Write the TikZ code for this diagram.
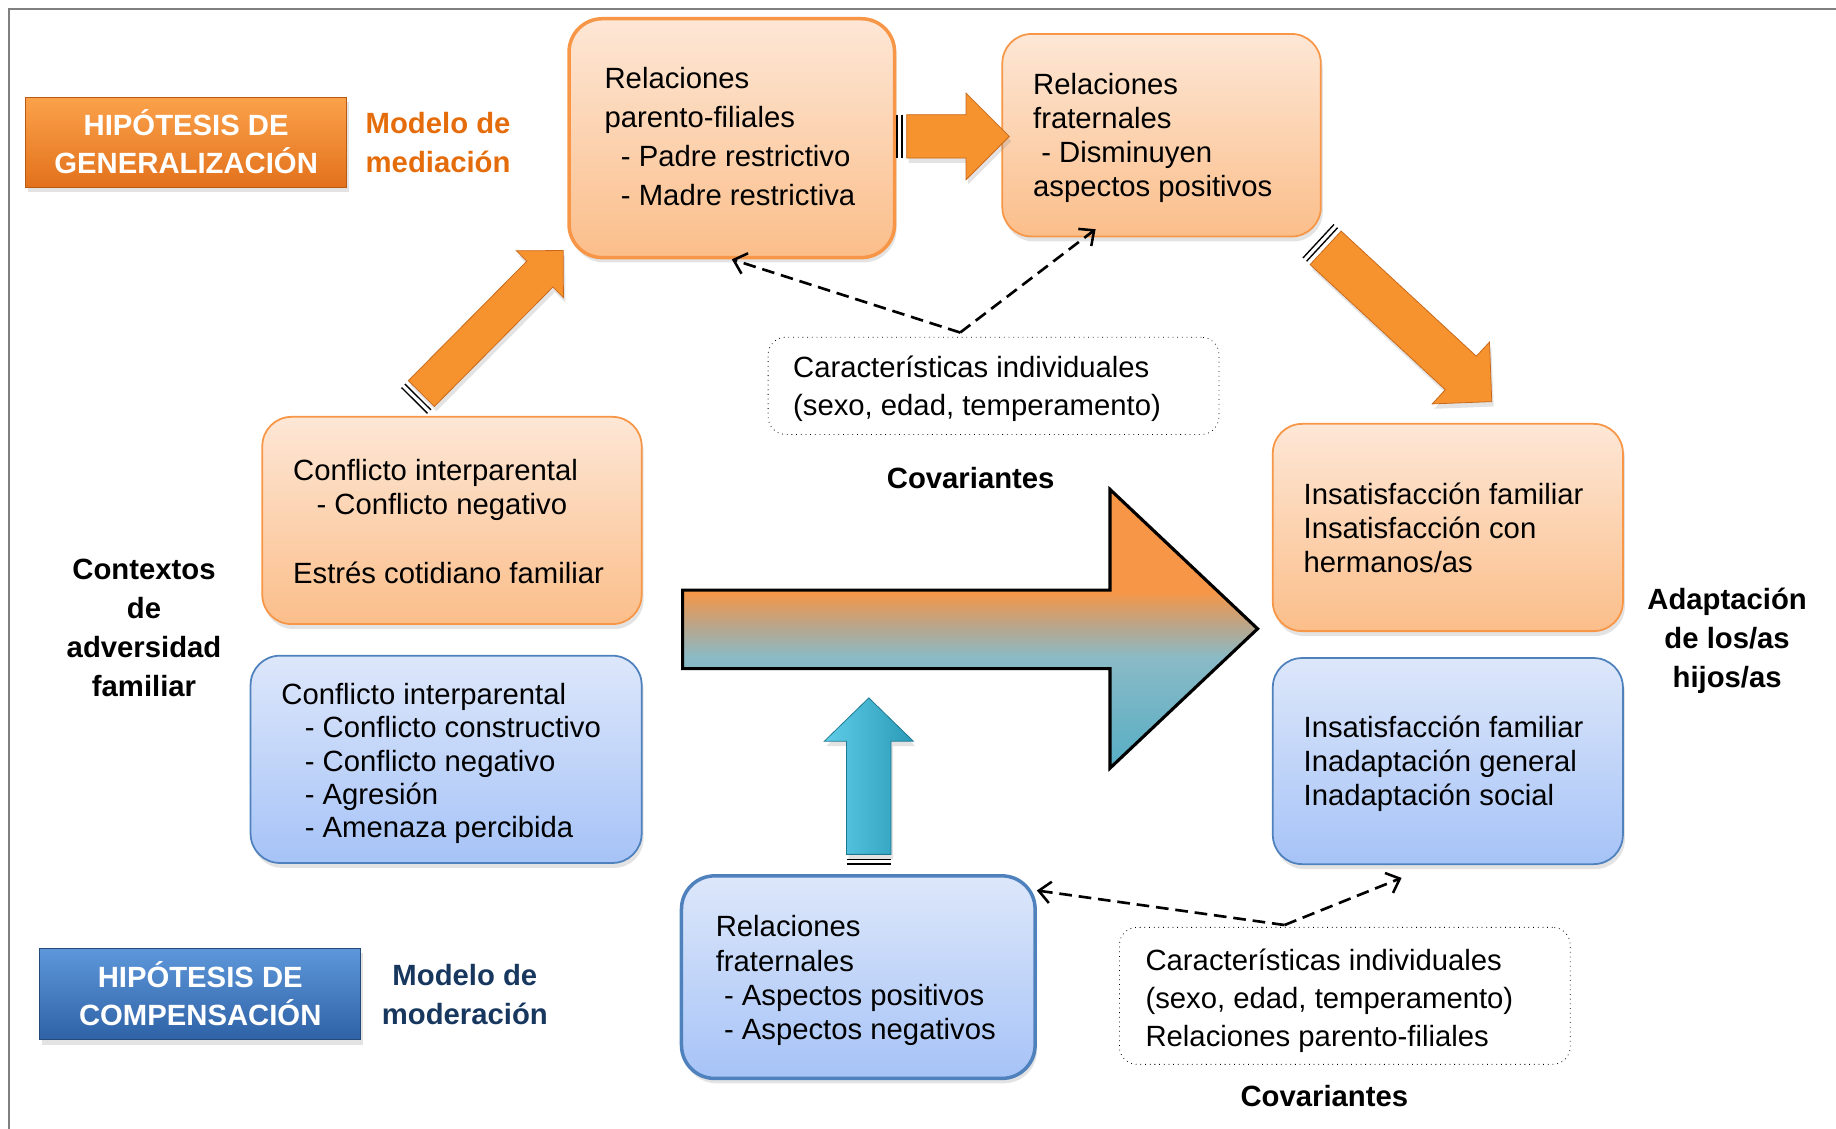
\documentclass[tikz,border=0pt]{standalone}
\usepackage{fontspec}
\setmainfont{Liberation Sans}
\usetikzlibrary{calc,shadows,arrows.meta,fit}
\definecolor{obord}{HTML}{F79646}
\definecolor{otop}{HTML}{FDE7D6}
\definecolor{obot}{HTML}{FBBE8A}
\definecolor{bbord}{HTML}{4F81BD}
\definecolor{btop}{HTML}{DDE7FA}
\definecolor{bbot}{HTML}{A6C3F7}
\definecolor{arrO}{HTML}{F7932F}
\definecolor{arrOd}{HTML}{C8681A}
\definecolor{arrBl}{HTML}{5FCDE8}
\definecolor{arrBr}{HTML}{2A9AB8}
\definecolor{arrBd}{HTML}{1E7891}
\definecolor{medO}{HTML}{E46C0A}
\definecolor{modB}{HTML}{17375E}
\definecolor{hypOt}{HTML}{FBA24B}
\definecolor{hypOb}{HTML}{E3711C}
\definecolor{hypOd}{HTML}{B85A12}
\definecolor{hypBt}{HTML}{5D97DA}
\definecolor{hypBb}{HTML}{2F62A6}
\definecolor{hypBd}{HTML}{24497A}
\definecolor{bTeal}{HTML}{56AEC5}
\definecolor{bLtTeal}{HTML}{8BBAC6}
\definecolor{bTan}{HTML}{B8A68C}
\definecolor{bOrange}{HTML}{F79646}
\definecolor{framegray}{HTML}{7F7F7F}
\pgfdeclareverticalshading{bigshade}{100bp}{color(0bp)=(bTeal); color(25bp)=(bTeal); color(45bp)=(bLtTeal); color(50.4bp)=(bTan); color(56.7bp)=(bOrange); color(100bp)=(bOrange)}
\newcommand{\blockarrow}[6]{%
  \coordinate (ba-s) at ($(#1)!5pt!(#2)$);
  \coordinate (ba-m) at ($(#1)!2.5pt!(#2)$);
  \coordinate (ba-h) at ($(#2)!#5!(#1)$);
  \path[#6] ($(ba-s)!#3!90:(#2)$) -- ($(ba-h)!#3!90:(#2)$) -- ($(ba-h)!#4!90:(#2)$) -- (#2) -- ($(ba-h)!#4!-90:(#2)$) -- ($(ba-h)!#3!-90:(#2)$) -- ($(ba-s)!#3!-90:(#2)$) -- cycle;
  \draw[stripe] ($(#1)!#3!90:(#2)$) -- ($(#1)!#3!-90:(#2)$);
  \draw[stripe] ($(ba-m)!#3!90:(#2)$) -- ($(ba-m)!#3!-90:(#2)$);
}
\begin{document}
\begin{tikzpicture}[x=0.6pt,y=-0.6pt,
  softshadow/.style={drop shadow={opacity=0.22, shadow xshift=1pt, shadow yshift=-2.5pt}},
  obox/.style={inner sep=0pt, draw=obord, line width=0.9pt, top color=otop, bottom color=obot, rounded corners=15pt, softshadow},
  bbox/.style={inner sep=0pt, draw=bbord, line width=0.9pt, top color=btop, bottom color=bbot, rounded corners=15pt, softshadow},
  covbox/.style={inner sep=0pt, draw=black, line width=0.4pt, dotted, rounded corners=9pt},
  txt/.style={anchor=west, align=left, inner sep=0pt, font=\fontsize{15}{#1}\selectfont},
  lbl/.style={align=center, inner sep=0pt, font=\fontsize{15}{#1}\selectfont\bfseries},
  hyp/.style={inner sep=0pt, line width=0.5pt, softshadow},
  hyptxt/.style={inner sep=0pt, align=center, text=white, font=\fontsize{15}{#1}\selectfont\bfseries},
  dashcon/.style={draw=black, line width=1.35pt, dash pattern=on 6.5pt off 3.5pt, -{Straight Barb[length=6pt,width=11pt,line width=1.3pt]}},
  stripe/.style={line width=0.7pt},
  oarrow/.style={fill=arrO, draw=arrOd, line width=0.4pt, line join=miter, softshadow},
  barrow/.style={left color=arrBl, right color=arrBr, draw=arrBd, line width=0.4pt, line join=miter, softshadow}
]
\useasboundingbox (0,0) rectangle (1568,964);
% frame
\draw[framegray, line width=0.9pt] (8,964) -- (8,8) -- (1568,8);

% hypothesis labels
\node[hyp, fit={(22,83) (296,160)}, top color=hypOt, bottom color=hypOb, draw=hypOd] (hypg) {};
\node[hyptxt=19.2pt] (hypgt) at (159,121) {HIPÓTESIS DE\\GENERALIZACIÓN};
\node[txt=19.8pt, font=\fontsize{15}{19.8}\selectfont\bfseries, text=medO] (medlbl) at (312,121.5) {Modelo de\\mediación};
\node[hyp, fit={(34,810) (308,888)}, top color=hypBt, bottom color=hypBb, draw=hypBd] (hypc) {};
\node[hyptxt=19.8pt] (hypct) at (171,848.5) {HIPÓTESIS DE\\COMPENSACIÓN};
\node[lbl=19.8pt, text=modB] (modlbl) at (397,849.5) {Modelo de\\moderación};

% boxes
\node[obox, line width=1.8pt, rounded corners=17pt, fit={(486,16) (764,220)}] (tl) {};
\node[obox, fit={(856,29) (1128,202)}] (tr) {};
\node[covbox, fit={(656,288) (1041,371)}] (cov1) {};
\node[obox, fit={(224,356) (548,533)}] (lo) {};
\node[bbox, fit={(214,560) (548,737)}] (lb) {};
\node[obox, fit={(1087,362) (1386,539)}] (ro) {};
\node[bbox, fit={(1087,562) (1386,738)}] (rb) {};
\node[bbox, line width=1.8pt, rounded corners=17pt, fit={(582,748) (884,921)}] (bot) {};
\node[covbox, fit={(956,792) (1341,909)}] (cov2) {};

% box texts
\node[txt=20pt] (tlt) at (516,117) {Relaciones\\parento-filiales\\\hspace*{8.4pt}- Padre restrictivo\\\hspace*{8.4pt}- Madre restrictiva};
\node[txt=17.4pt] (trt) at (882,117.5) {Relaciones\\fraternales\\\hspace*{4.2pt}- Disminuyen\\aspectos positivos};
\node[txt=19.8pt] (cov1t) at (677,332) {Características individuales\\(sexo, edad, temperamento)};
\node[txt=17.6pt] (lot) at (250,445) {Conflicto interparental\\\hspace*{12pt}- Conflicto negativo\\[17.6pt]Estrés cotidiano familiar};
\node[txt=17.1pt] (lbt) at (240,652) {Conflicto interparental\\\hspace*{12pt}- Conflicto constructivo\\\hspace*{12pt}- Conflicto negativo\\\hspace*{12pt}- Agresión\\\hspace*{12pt}- Amenaza percibida};
\node[txt=17.4pt] (rot) at (1113,451) {Insatisfacción familiar\\Insatisfacción con\\hermanos/as};
\node[txt=17.4pt] (rbt) at (1113,652.5) {Insatisfacción familiar\\Inadaptación general\\Inadaptación social};
\node[txt=17.6pt] (bott) at (611,837.5) {Relaciones\\fraternales\\\hspace*{4.2pt}- Aspectos positivos\\\hspace*{4.2pt}- Aspectos negativos};
\node[txt=19.5pt] (cov2t) at (978,855) {Características individuales\\(sexo, edad, temperamento)\\Relaciones parento-filiales};

% side labels
\node[lbl=20pt] (ctx) at (123,536) {Contextos\\de\\adversidad\\familiar};
\node[lbl=20pt] (adp) at (1475,547) {Adaptación\\de los/as\\hijos/as};
\node[lbl=18pt] (covlbl1) at (829,408) {Covariantes};
\node[lbl=18pt] (covlbl2) at (1131,936) {Covariantes};

% big arrow
\coordinate (bigtail) at (583,537);
\coordinate (bigtip) at (1074,537);
\shadedraw[shading=bigshade, draw=black, line width=1.6pt, line join=miter]
  (583,504) -- (948,504) -- (948,418) -- (bigtip) -- (948,656) -- (948,571) -- (583,571) -- cycle;

% block arrows
\coordinate (a1s) at (766,116.5);
\coordinate (a1e) at (862,116.5);
\blockarrow{a1s}{a1e}{11.1pt}{22.2pt}{22.2pt}{oarrow}
\coordinate (a2s) at (354,342);
\coordinate (a2e) at (481,214);
\blockarrow{a2s}{a2e}{9.4pt}{17pt}{17pt}{oarrow}
\coordinate (a3s) at (1126,206);
\coordinate (a3e) at (1274,343);
\blockarrow{a3s}{a3e}{11.7pt}{21.6pt}{21.6pt}{oarrow}
\coordinate (a4s) at (742,738);
\coordinate (a4e) at (742,596);
\blockarrow{a4s}{a4e}{11.4pt}{22.8pt}{22.2pt}{barrow}

% dashed connectors
\coordinate (c1) at (820,284);
\draw[dashcon] (c1) -- (tl.south);
\draw[dashcon] (c1) -- ($(tr.south west)!0.294!(tr.south east)+(0,-7)$);
\coordinate (c2) at (1097,790);
\draw[dashcon] (c2) -- ([yshift=-8.4pt]bot.north east);
\draw[dashcon] (c2) -- ([xshift=-23.7pt,yshift=-6.6pt]rb.south);
\end{tikzpicture}
\end{document}
